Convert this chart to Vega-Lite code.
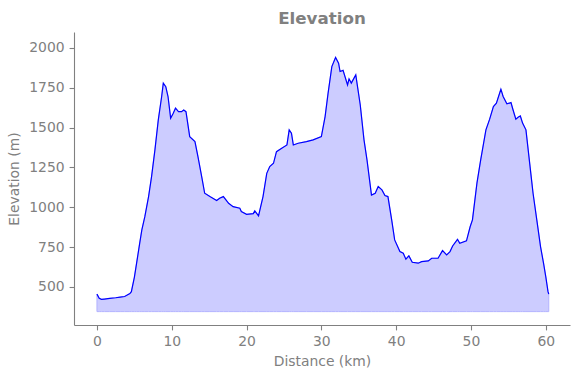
{
  "$schema": "https://vega.github.io/schema/vega-lite/v6.json",
  "width": 496,
  "height": 293,
  "autosize": {"type": "none"},
  "padding": {"left": 74, "top": 32, "right": 10, "bottom": 53},
  "background": "white",
  "title": {"text": "Elevation", "font": "DejaVu Sans", "fontSize": 16.7, "fontWeight": "bold", "color": "#808080", "anchor": "middle", "offset": 4},
  "config": {
    "view": {"stroke": null},
    "axis": {
      "grid": false,
      "labelFont": "DejaVu Sans", "labelFontSize": 13.9, "labelColor": "#808080",
      "titleFont": "DejaVu Sans", "titleFontSize": 13.9, "titleColor": "#808080", "titleFontWeight": "normal",
      "domainColor": "#808080", "domainWidth": 1.1,
      "tickColor": "#808080", "tickSize": 4.9, "tickWidth": 1.1,
      "labelPadding": 5
    }
  },
  "data": {"values": [
    {"d":0,"e":455},{"d":0.3,"e":429},{"d":0.6,"e":422},{"d":1.0,"e":424},{"d":1.7,"e":428},{"d":2.5,"e":432},{"d":3.1,"e":436},{"d":3.7,"e":440},{"d":4.4,"e":458},{"d":4.6,"e":470},{"d":5.0,"e":560},{"d":5.3,"e":649},{"d":5.7,"e":770},{"d":6.0,"e":858},{"d":6.4,"e":941},{"d":6.9,"e":1067},{"d":7.3,"e":1192},{"d":7.75,"e":1360},{"d":8.2,"e":1548},{"d":8.65,"e":1695},{"d":8.87,"e":1779},{"d":9.2,"e":1757},{"d":9.5,"e":1695},{"d":9.85,"e":1559},{"d":10.2,"e":1590},{"d":10.5,"e":1622},{"d":10.9,"e":1600},{"d":11.3,"e":1600},{"d":11.6,"e":1611},{"d":11.9,"e":1600},{"d":12.4,"e":1443},{"d":13.1,"e":1412},{"d":13.5,"e":1318},{"d":14.0,"e":1192},{"d":14.4,"e":1088},{"d":15.1,"e":1067},{"d":16.0,"e":1042},{"d":16.4,"e":1057},{"d":16.9,"e":1067},{"d":17.6,"e":1025},{"d":18.2,"e":1004},{"d":19.1,"e":994},{"d":19.3,"e":973},{"d":20.0,"e":956},{"d":20.9,"e":960},{"d":21.1,"e":977},{"d":21.6,"e":946},{"d":22.2,"e":1067},{"d":22.7,"e":1213},{"d":23.1,"e":1255},{"d":23.6,"e":1276},{"d":24.0,"e":1349},{"d":24.7,"e":1371},{"d":25.4,"e":1391},{"d":25.7,"e":1486},{"d":26.0,"e":1465},{"d":26.25,"e":1391},{"d":26.9,"e":1402},{"d":28.0,"e":1412},{"d":28.9,"e":1423},{"d":30.0,"e":1443},{"d":30.5,"e":1569},{"d":30.9,"e":1716},{"d":31.4,"e":1883},{"d":31.9,"e":1940},{"d":32.3,"e":1904},{"d":32.5,"e":1852},{"d":32.9,"e":1859},{"d":33.5,"e":1768},{"d":33.7,"e":1806},{"d":34.0,"e":1779},{"d":34.6,"e":1831},{"d":35.2,"e":1642},{"d":35.7,"e":1423},{"d":36.1,"e":1297},{"d":36.7,"e":1077},{"d":37.2,"e":1088},{"d":37.6,"e":1130},{"d":38.1,"e":1109},{"d":38.5,"e":1073},{"d":38.9,"e":1067},{"d":39.4,"e":921},{"d":39.8,"e":795},{"d":40.5,"e":722},{"d":40.95,"e":711},{"d":41.3,"e":674},{"d":41.7,"e":695},{"d":42.15,"e":655},{"d":42.95,"e":649},{"d":43.4,"e":659},{"d":44.3,"e":663},{"d":44.75,"e":680},{"d":45.6,"e":680},{"d":46.2,"e":728},{"d":46.75,"e":701},{"d":47.2,"e":722},{"d":47.55,"e":757},{"d":48.2,"e":799},{"d":48.5,"e":774},{"d":49.4,"e":789},{"d":49.9,"e":879},{"d":50.2,"e":921},{"d":50.8,"e":1151},{"d":51.3,"e":1297},{"d":52.0,"e":1486},{"d":52.5,"e":1553},{"d":53.0,"e":1632},{"d":53.4,"e":1653},{"d":54.0,"e":1741},{"d":54.3,"e":1695},{"d":54.8,"e":1649},{"d":55.35,"e":1657},{"d":55.6,"e":1615},{"d":56.0,"e":1553},{"d":56.3,"e":1565},{"d":56.6,"e":1573},{"d":56.9,"e":1528},{"d":57.35,"e":1486},{"d":57.9,"e":1255},{"d":58.3,"e":1088},{"d":58.8,"e":921},{"d":59.3,"e":753},{"d":59.7,"e":649},{"d":60.0,"e":565},{"d":60.3,"e":470},{"d":60.4,"e":455}
  ]},
  "encoding": {
    "x": {"field": "d", "type": "quantitative", "scale": {"domain": [-3.07, 63.24], "nice": false, "zero": false},
          "axis": {"values": [0,10,20,30,40,50,60], "title": "Distance (km)", "titlePadding": 6}},
    "y": {"field": "e", "type": "quantitative", "scale": {"domain": [261, 2100], "nice": false, "zero": false},
          "axis": {"values": [500,750,1000,1250,1500,1750,2000], "format": "d", "title": "Elevation (m)", "titlePadding": 7}}
  },
  "layer": [
    {"mark": {"type": "area", "color": "#ccccff", "stroke": "#b3b3ff", "strokeWidth": 1, "opacity": 1},
     "encoding": {"y2": {"datum": 345}}},
    {"mark": {"type": "line", "color": "#0000ff", "strokeWidth": 1.2}}
  ]
}
